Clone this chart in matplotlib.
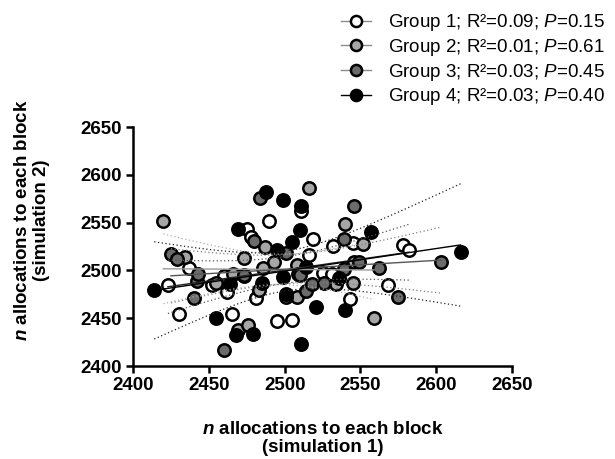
import math
import numpy as np
import matplotlib
matplotlib.use('Agg')
import matplotlib.pyplot as plt
from matplotlib.lines import Line2D

plt.rcParams['font.family'] = ['Liberation Sans', 'DejaVu Sans']
plt.rcParams['mathtext.fontset'] = 'custom'
plt.rcParams['mathtext.rm'] = 'Liberation Sans'
plt.rcParams['mathtext.it'] = 'Liberation Sans:italic'
plt.rcParams['mathtext.bf'] = 'Liberation Sans:bold'
plt.rcParams['mathtext.bfit'] = 'Liberation Sans:italic:bold'

# values (simulation 1, simulation 2)
g1_x = [2423, 2430, 2437, 2452, 2460, 2462, 2465, 2475, 2478, 2481, 2490, 2495,
        2505, 2511, 2516, 2519, 2525, 2531, 2532, 2543, 2545, 2568, 2578, 2582]
g1_y = [2485, 2454, 2503, 2485, 2494, 2477, 2454, 2543, 2535, 2471, 2552, 2447,
        2448, 2562, 2516, 2533, 2497, 2496, 2526, 2470, 2529, 2485, 2527, 2521]

g2_x = [2420, 2434, 2455, 2466, 2469, 2473, 2473, 2476, 2483, 2486, 2487, 2493,
        2508, 2508, 2509, 2516, 2534, 2540, 2545, 2546, 2552, 2559]
g2_y = [2552, 2514, 2487, 2496, 2438, 2513, 2494, 2443, 2479, 2503, 2525, 2509,
        2472, 2506, 2496, 2586, 2486, 2549, 2487, 2509, 2528, 2450]

g3_x = [2425, 2429, 2440, 2442, 2443, 2460, 2473, 2480, 2484, 2501, 2501, 2510,
        2514, 2518, 2526, 2539, 2539, 2546, 2549, 2562, 2575, 2603]
g3_y = [2517, 2512, 2471, 2489, 2496, 2417, 2495, 2531, 2576, 2518, 2472, 2495,
        2478, 2486, 2487, 2533, 2501, 2567, 2509, 2502, 2472, 2509]

g4_x = [2414, 2455, 2464, 2468, 2469, 2479, 2485, 2488, 2495, 2499, 2499, 2501,
        2505, 2510, 2511, 2511, 2514, 2521, 2536, 2540, 2557, 2616]
g4_y = [2480, 2450, 2486, 2432, 2543, 2433, 2487, 2582, 2521, 2493, 2574, 2475,
        2530, 2542, 2567, 2423, 2504, 2462, 2492, 2459, 2540, 2519]

labels = ['Group 1; R²=0.09; $\\mathit{P}$=0.15',
          'Group 2; R²=0.01; $\\mathit{P}$=0.61',
          'Group 3; R²=0.03; $\\mathit{P}$=0.45',
          'Group 4; R²=0.03; $\\mathit{P}$=0.40']

ticks = [2400, 2450, 2500, 2550, 2600, 2650]

face = ['white', '#a6a6a6', '#6b6b6b', 'black']
fitc = ['#222222', '#9a9a9a', '#555555', 'black']
bandc = ['#555555', '#b0b0b0', '#808080', '#222222']


def t_crit(df, p=0.975):
    # two sided 95% t value, bisection on a numeric cdf
    c = math.gamma((df + 1) / 2) / (math.sqrt(df * math.pi) * math.gamma(df / 2))
    def cdf(t):
        u = np.linspace(0, t, 2001)
        f = c * (1 + u ** 2 / df) ** (-(df + 1) / 2)
        return 0.5 + np.trapezoid(f, u)
    lo, hi = 0.0, 10.0
    for _ in range(60):
        mid = (lo + hi) / 2
        if cdf(mid) < p:
            lo = mid
        else:
            hi = mid
    return (lo + hi) / 2


fig = plt.figure(figsize=(6.15, 4.59), dpi=100)
ax = fig.add_axes([0.2163, 0.2026, 0.6163, 0.5207])

groups = [(g1_x, g1_y), (g2_x, g2_y), (g3_x, g3_y), (g4_x, g4_y)]
for i, (gx, gy) in enumerate(groups):
    x = np.array(gx, float)
    y = np.array(gy, float)
    ax.scatter(x, y, s=80, facecolor=face[i], edgecolor='black', linewidth=1.8,
               zorder=3)

    n = len(x)
    b, a = np.polyfit(x, y, 1)
    res = y - (a + b * x)
    s = np.sqrt(np.sum(res ** 2) / (n - 2))
    sxx = np.sum((x - x.mean()) ** 2)
    xs = np.linspace(x.min(), x.max(), 100)
    fit = a + b * xs
    half = t_crit(n - 2) * s * np.sqrt(1 / n + (xs - x.mean()) ** 2 / sxx)
    ax.plot(xs, fit, color=fitc[i], lw=1.0, zorder=4)
    ax.plot(xs, fit + half, color=bandc[i], lw=0.9, ls=(0, (1, 2)), zorder=4)
    ax.plot(xs, fit - half, color=bandc[i], lw=0.9, ls=(0, (1, 2)), zorder=4)

ax.set_xlim(2400, 2650)
ax.set_ylim(2400, 2650)
ax.set_xticks(ticks)
ax.set_yticks(ticks)
for lab in ax.get_xticklabels() + ax.get_yticklabels():
    lab.set_fontweight('bold')
    lab.set_fontsize(13.5)
ax.tick_params(length=5, width=1.8, direction='out', pad=3, color='black')
for sp in ['top', 'right']:
    ax.spines[sp].set_visible(False)
for sp in ['left', 'bottom']:
    ax.spines[sp].set_linewidth(1.8)

ax.set_xlabel('$\\mathbfit{n}$ allocations to each block\n(simulation 1)',
              fontsize=13.5, fontweight='bold', labelpad=19, linespacing=1.1)
ax.set_ylabel('$\\mathbfit{n}$ allocations to each block\n(simulation 2)',
              fontsize=13.5, fontweight='bold', linespacing=1.1)
ax.yaxis.set_label_coords(-0.22, 0.61)

handles = []
for i in range(4):
    handles.append(Line2D([0], [0], color=fitc[i] if i == 3 else '#8c8c8c', lw=1.0,
                          marker='o', markersize=8, markerfacecolor=face[i],
                          markeredgecolor='black', markeredgewidth=1.8))
fig.legend(handles, labels, loc='upper left', bbox_to_anchor=(0.535, 1.0),
           frameon=False, fontsize=13.5, handlelength=1.6, handletextpad=0.9,
           labelspacing=0.2, borderaxespad=0.25)

fig.savefig('out.png', dpi=100)
